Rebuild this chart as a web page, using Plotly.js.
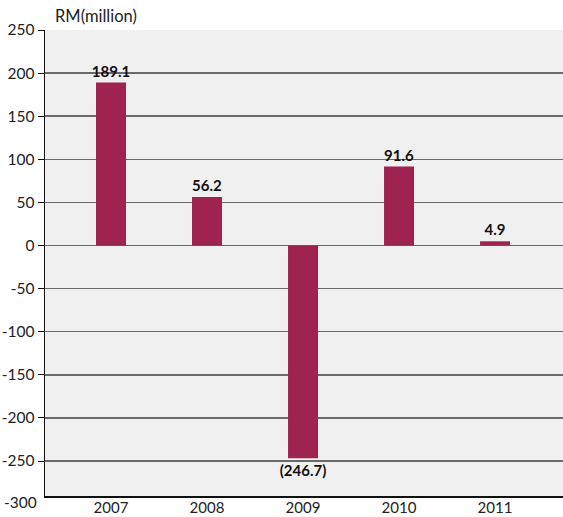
<!DOCTYPE html>
<html>
<head>
<meta charset="utf-8">
<script src="https://cdn.plot.ly/plotly-3.0.1.min.js"></script>
<style>
html,body{margin:0;padding:0;background:#fff;}
#chart{width:563px;height:517px;}
</style>
</head>
<body>
<div id="chart"></div>
<script>
const years = ['2007', '2008', '2009', '2010', '2011'];
const values = [189.1, 56.2, -246.7, 91.6, 4.9];
const valueLabels = ['189.1', '56.2', '(246.7)', '91.6', '4.9'];
const yTicks = [250, 200, 150, 100, 50, 0, -50, -100, -150, -200, -250];
const yTickLabels = ['250', '200', '150', '100', '50', '0', '-50', '-100', '-150', '-200', '-250'];
const unitLabel = 'RM(million)';
const bottomTickLabel = '-300';

const fontFam = 'Lato, "Open Sans", sans-serif';

const trace = {
  type: 'bar',
  x: years,
  y: values,
  text: valueLabels,
  texttemplate: '<b>%{text}</b>',
  textposition: 'outside',
  constraintext: 'none',
  textfont: {family: fontFam, size: 15, color: '#111'},
  cliponaxis: false,
  width: 0.3125,
  marker: {color: '#9E2350'},
  hoverinfo: 'none'
};

const layout = {
  width: 563,
  height: 517,
  margin: {l: 45, r: 0, t: 30, b: 21, pad: 0},
  paper_bgcolor: '#ffffff',
  plot_bgcolor: '#f0f0f0',
  showlegend: false,
  font: {family: fontFam, size: 15.5, color: '#222'},
  xaxis: {
    type: 'category',
    range: [-0.6875, 4.708],
    showgrid: false,
    zeroline: false,
    showline: true,
    linecolor: '#111',
    linewidth: 1.5,
    ticks: '',
    ticklabelstandoff: -3,
    tickfont: {family: fontFam, size: 15, color: '#222'},
    fixedrange: true
  },
  yaxis: {
    range: [-290.6, 250],
    tickmode: 'array',
    tickvals: yTicks,
    ticktext: yTickLabels,
    showgrid: true,
    gridcolor: '#6a6a6a',
    gridwidth: 1.5,
    zeroline: false,
    showline: true,
    linecolor: '#111',
    linewidth: 1.5,
    ticks: 'outside',
    ticklen: 6,
    tickcolor: '#111',
    tickwidth: 1,
    tickfont: {family: fontFam, size: 15.5, color: '#222'},
    fixedrange: true
  },
  annotations: [
    {
      text: unitLabel,
      xref: 'paper', yref: 'paper',
      x: 0.0154, y: 1.03,
      xanchor: 'left', yanchor: 'middle',
      showarrow: false,
      font: {family: fontFam, size: 16.5, color: '#222'}
    },
    {
      text: bottomTickLabel,
      xref: 'paper', yref: 'paper',
      x: 0, y: -0.012,
      xanchor: 'right', yanchor: 'middle',
      xshift: -6,
      showarrow: false,
      font: {family: fontFam, size: 15.5, color: '#222'}
    }
  ]
};

Plotly.newPlot('chart', [trace], layout, {displayModeBar: false, staticPlot: true});
</script>
</body>
</html>
